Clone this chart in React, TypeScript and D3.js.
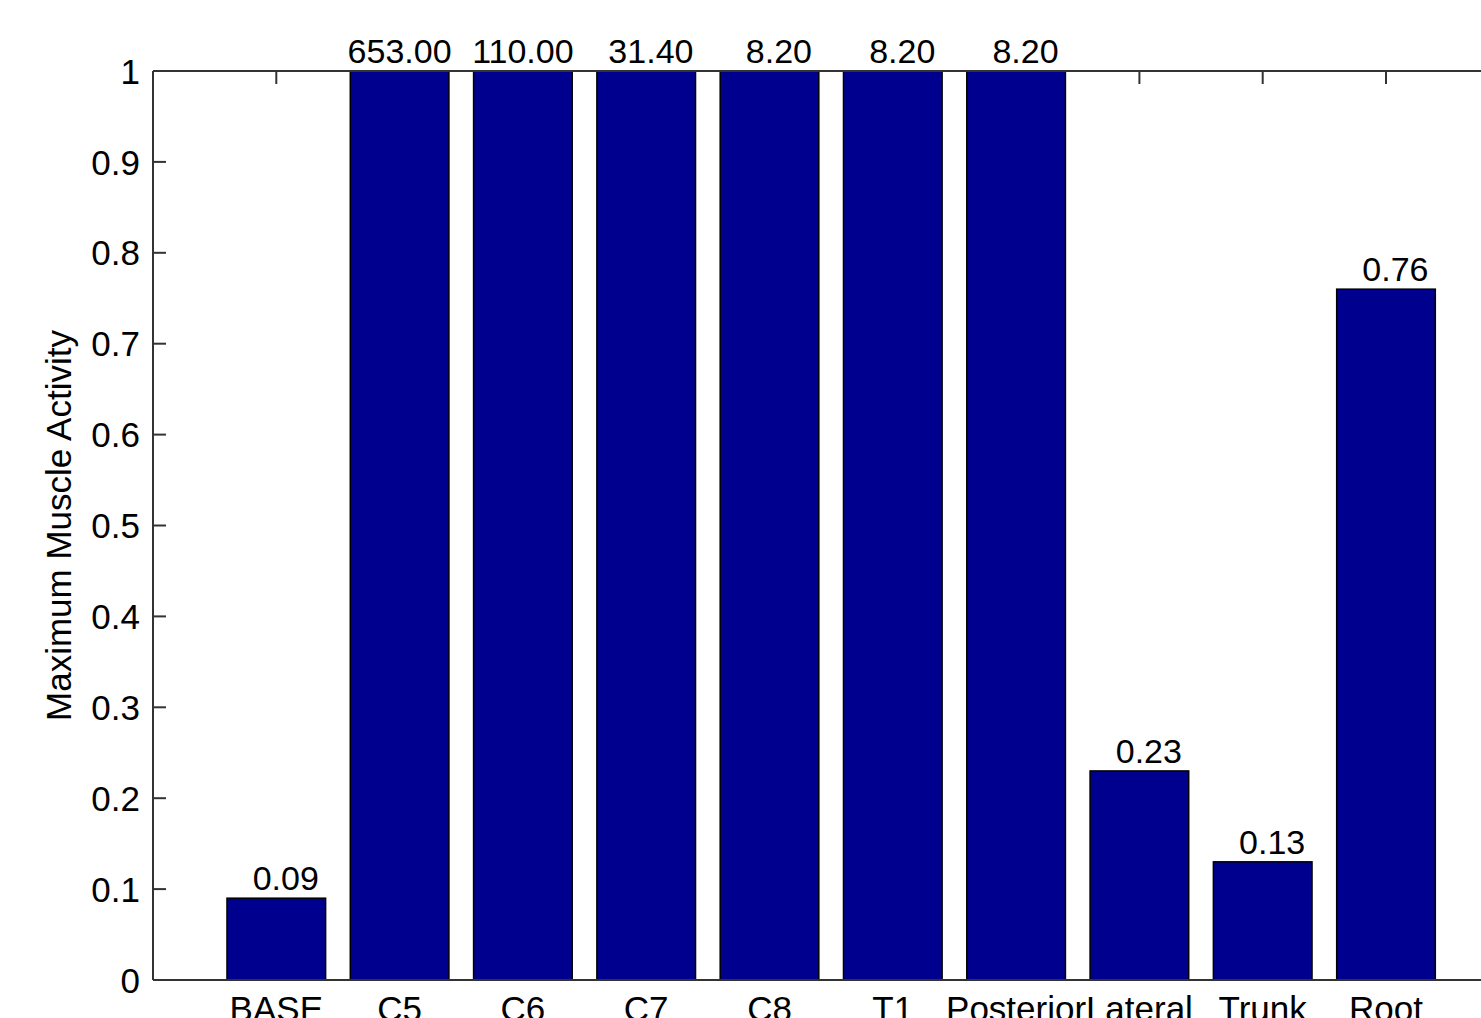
import React from "react";
import * as d3 from "d3";

const categories = ["BASE", "C5", "C6", "C7", "C8", "T1", "Posterior", "Lateral", "Trunk", "Root"];
const values = [0.09, 653.0, 110.0, 31.4, 8.2, 8.2, 8.2, 0.23, 0.13, 0.76];
const yTicks = [0, 0.1, 0.2, 0.3, 0.4, 0.5, 0.6, 0.7, 0.8, 0.9, 1];
const yLabel = "Maximum Muscle Activity";

const W = 1481;
const H = 1018;
const FONT = "'Liberation Sans', Arial, Helvetica, sans-serif";

export default function App() {
  const left = 153;
  const top = 71;
  const bottom = 980;
  const unit = 123.3;
  const n = categories.length + 1;
  const x = d3.scaleLinear().domain([0, n]).range([left, left + unit * n]);
  const y = d3.scaleLinear().domain([0, 1]).range([bottom, top]);
  const bw = x(0.8) - x(0);
  const right = x(n);
  const tickLen = 13;
  const fmtY = d3.format("~g");

  return (
    <svg
      width={W}
      height={H}
      style={{ position: "fixed", left: 0, top: 0, background: "#fff", overflow: "hidden" }}
      fontFamily={FONT}
    >
      <rect x={0} y={0} width={W} height={H} fill="#fff" />
      {categories.map((c, i) => (
        <line key={"tt" + c} x1={x(i + 1)} x2={x(i + 1)} y1={top} y2={top + tickLen} stroke="#333" strokeWidth={2} />
      ))}
      {yTicks.map((t) => (
        <g key={"yt" + t}>
          <line x1={left} x2={left + tickLen} y1={y(t)} y2={y(t)} stroke="#333" strokeWidth={2} />
          <line x1={right} x2={right - tickLen} y1={y(t)} y2={y(t)} stroke="#333" strokeWidth={2} />
          <text x={left - 13} y={y(t)} dy="0.36em" textAnchor="end" fontSize={35} fill="#000">
            {fmtY(t)}
          </text>
        </g>
      ))}
      {values.map((v, i) => {
        const vv = Math.min(v, 1);
        return (
          <rect
            key={"b" + i}
            x={x(i + 1) - bw / 2}
            y={y(vv)}
            width={bw}
            height={y(0) - y(vv)}
            fill="#00008F"
            stroke="#000"
            strokeWidth={1.5}
          />
        );
      })}
      <line x1={left} x2={right} y1={top} y2={top} stroke="#333" strokeWidth={2} />
      <line x1={left} x2={right} y1={bottom} y2={bottom} stroke="#333" strokeWidth={2} />
      <line x1={left} x2={left} y1={top} y2={bottom} stroke="#333" strokeWidth={2} />
      <line x1={right} x2={right} y1={top} y2={bottom} stroke="#333" strokeWidth={2} />
      {values.map((v, i) => (
        <text
          key={"v" + i}
          x={x(i + 1)}
          y={y(Math.min(v, 1)) - 8}
          textAnchor="middle"
          fontSize={34}
          fill="#000"
          style={{ whiteSpace: "pre" }}
        >
          {v.toFixed(2).padStart(6, " ")}
        </text>
      ))}
      {categories.map((c, i) => (
        <text key={"xl" + c} x={x(i + 1)} y={bottom + 41} textAnchor="middle" fontSize={35} fill="#000">
          {c}
        </text>
      ))}
      <text
        transform={`translate(71, ${(top + bottom) / 2}) rotate(-90)`}
        textAnchor="middle"
        fontSize={35}
        fill="#000"
      >
        {yLabel}
      </text>
    </svg>
  );
}
